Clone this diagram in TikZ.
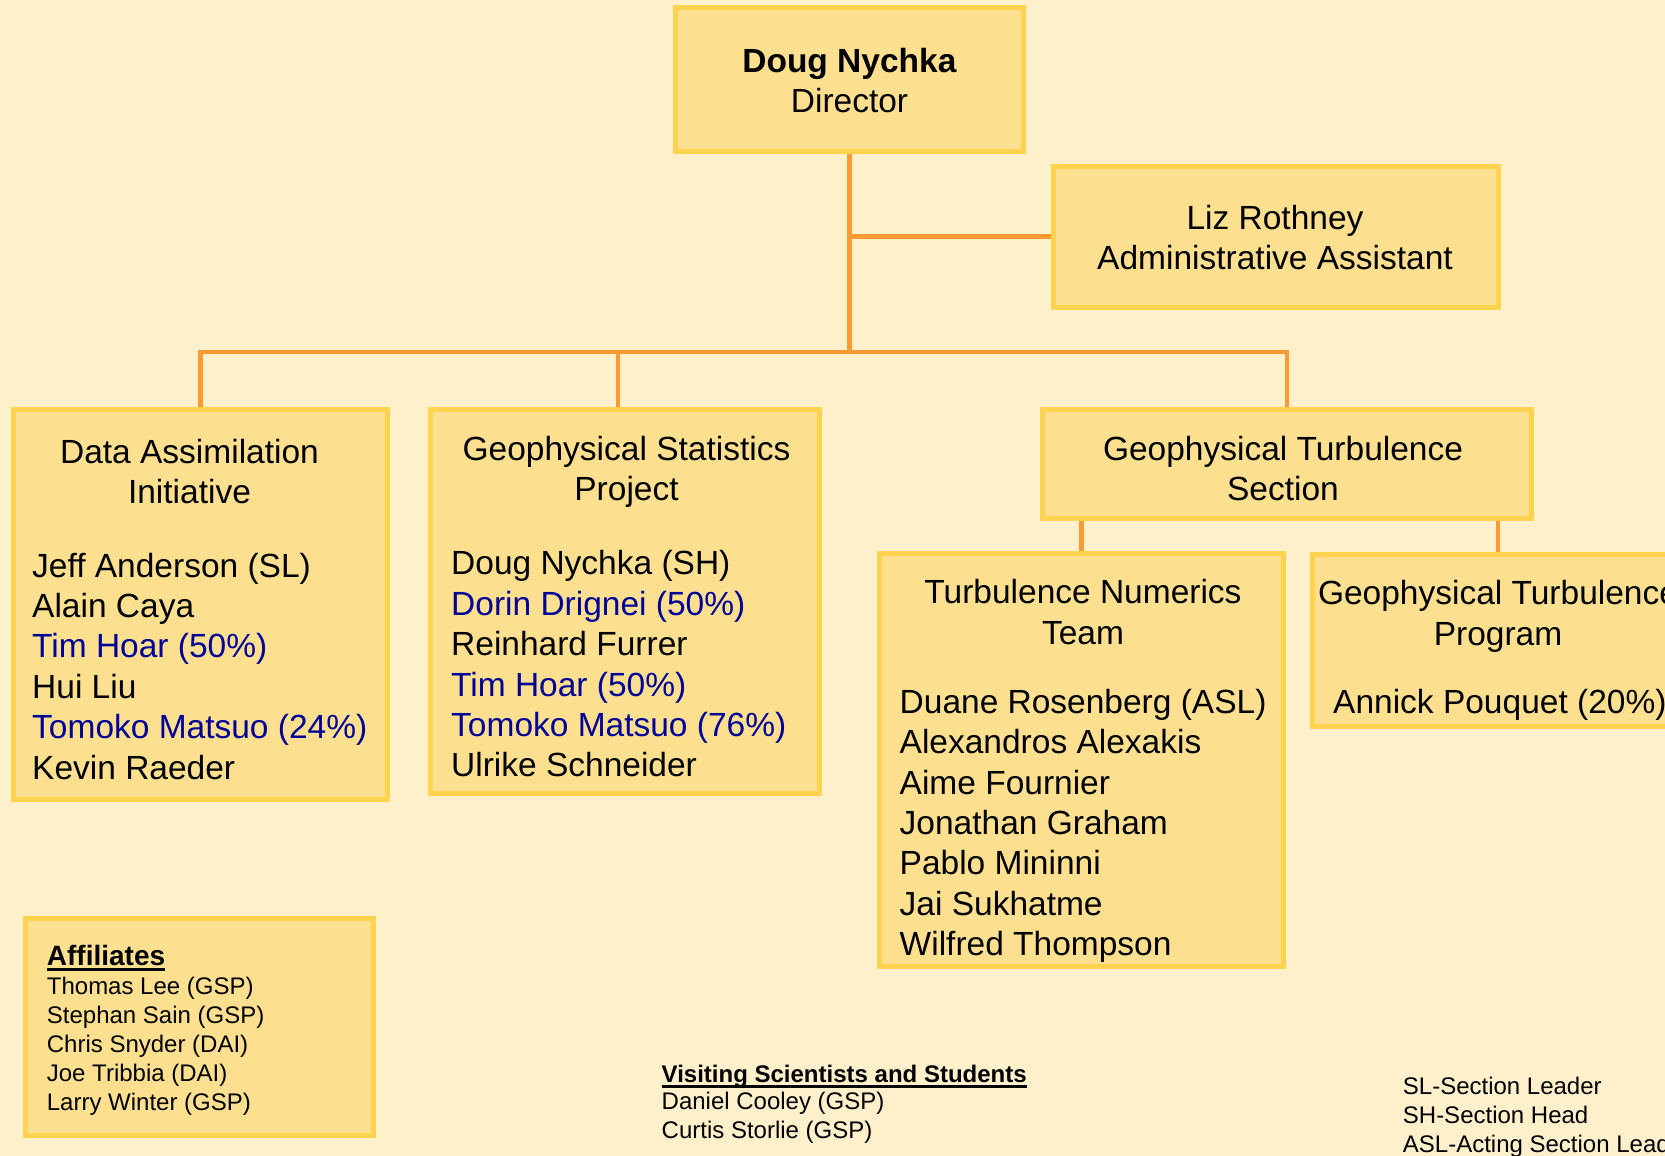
\documentclass[tikz,border=0pt]{standalone}
\usepackage{fontspec}
\setmainfont{Liberation Sans}
\definecolor{bgc}{HTML}{FFF0CC}
\definecolor{boxfill}{HTML}{FDE08F}
\definecolor{boxline}{HTML}{FFD24F}
\definecolor{orangeline}{HTML}{FF9933}
\definecolor{nameblue}{HTML}{000099}
\newcommand{\ulhead}[1]{\setbox0=\hbox{#1}\leavevmode\rlap{\rule[-6pt]{\wd0}{2.7pt}}\box0}
\pgfdeclarelayer{back}
\pgfsetlayers{back,main}
\begin{document}
\begin{tikzpicture}[x=1pt,y=-1pt,
  orgbox/.style={draw=boxline, fill=boxfill, line width=5pt, rectangle, inner sep=0pt},
  connline/.style={draw=orangeline, line width=4.5pt},
  bigtxt/.style={font=\fontsize{33.5}{40.4}\selectfont, inner sep=0pt},
  smalltxt/.style={font=\fontsize{24}{28.9}\selectfont, inner sep=0pt},
  ttl/.style={bigtxt, align=center, anchor=base},
  nms/.style={bigtxt, align=left, anchor=base west},
  sms/.style={smalltxt, align=left, anchor=base west},
]
\useasboundingbox (0,0) rectangle (1665,1156);
\clip (0,0) rectangle (1665,1156);

% boxes
\node[orgbox, minimum width=348pt, minimum height=144pt] (dir) at (849.5,79.5) {};
\node[orgbox, minimum width=445pt, minimum height=141pt] (liz) at (1275.5,236.5) {};
\node[orgbox, minimum width=374pt, minimum height=390pt] (dai) at (200.5,604.5) {};
\node[orgbox, minimum width=389pt, minimum height=384pt] (gsp) at (625,601.5) {};
\node[orgbox, minimum width=489pt, minimum height=109pt] (gts) at (1287,464) {};
\node[orgbox, minimum width=404pt, minimum height=413pt] (tnt) at (1081.5,760) {};
\node[orgbox, minimum width=371pt, minimum height=172pt] (gtp) at (1498,640.5) {};
\node[orgbox, minimum width=348pt, minimum height=217pt] (aff) at (199.5,1027) {};

% texts (anchor = baseline of the last line)
\node[ttl] (dirt) at (849.5,112.7) {\textbf{Doug Nychka}\\Director};
\node[ttl] (lizt) at (1275,269.5) {Liz Rothney\\Administrative Assistant};
\node[ttl] (dait) at (189.5,503.7) {Data Assimilation\\Initiative};
\node[nms] (dain) at (32,779) {Jeff Anderson (SL)\\Alain Caya\\\textcolor{nameblue}{Tim Hoar (50\%)}\\Hui Liu\\\textcolor{nameblue}{Tomoko Matsuo (24\%)}\\Kevin Raeder};
\node[ttl] (gspt) at (626.5,500.5) {Geophysical Statistics\\Project};
\node[nms] (gspn) at (451,776.8) {Doug Nychka (SH)\\\textcolor{nameblue}{Dorin Drignei (50\%)}\\Reinhard Furrer\\\textcolor{nameblue}{Tim Hoar (50\%)}\\\textcolor{nameblue}{Tomoko Matsuo (76\%)}\\Ulrike Schneider};
\node[ttl] (gtst) at (1283,500.5) {Geophysical Turbulence\\Section};
\node[ttl] (tntt) at (1083,644) {Turbulence Numerics\\Team};
\node[nms] (tntn) at (899.5,955.7) {Duane Rosenberg (ASL)\\Alexandros Alexakis\\Aime Fournier\\Jonathan Graham\\Pablo Mininni\\Jai Sukhatme\\Wilfred Thompson};
\node[ttl] (gtpt) at (1498,645) {Geophysical Turbulence\\Program};
\node[nms] (gtpn) at (1333,713.3) {Annick Pouquet (20\%)};

\node[anchor=base west, inner sep=0pt, font=\fontsize{28}{33}\selectfont\bfseries] (affh) at (46.7,965) {\ulhead{Affiliates}};
\node[sms] (affn) at (46.7,1110) {Thomas Lee (GSP)\\Stephan Sain (GSP)\\Chris Snyder (DAI)\\Joe Tribbia (DAI)\\Larry Winter (GSP)};

\node[sms, font=\fontsize{24}{28.9}\selectfont\bfseries] (vish) at (661.5,1082) {\ulhead{Visiting Scientists and Students}};
\node[sms] (visn) at (661.5,1138.6) {Daniel Cooley (GSP)\\Curtis Storlie (GSP)};

\node[sms] (leg) at (1402.7,1152.7) {SL-Section Leader\\SH-Section Head\\ASL-Acting Section Leader};

% background and connectors
\begin{pgfonlayer}{back}
\fill[bgc] (0,0) rectangle (1665,1156);
\coordinate (bus) at (849.5,352);
\coordinate (gspj) at ([xshift=-7pt]gsp.north);
\draw[connline] (dir.south) -- (bus);
\draw[connline] (dir.south |- liz.west) -- (liz.west);
\draw[connline] (dai.north) |- (bus);
\draw[connline] (gts.north) |- (bus);
\draw[connline] (gspj) -- (gspj |- bus);
\draw[connline] (tnt.north) -- (tnt.north |- gts.south);
\draw[connline] (gtp.north) -- (gtp.north |- gts.south);
\end{pgfonlayer}
\end{tikzpicture}
\end{document}
